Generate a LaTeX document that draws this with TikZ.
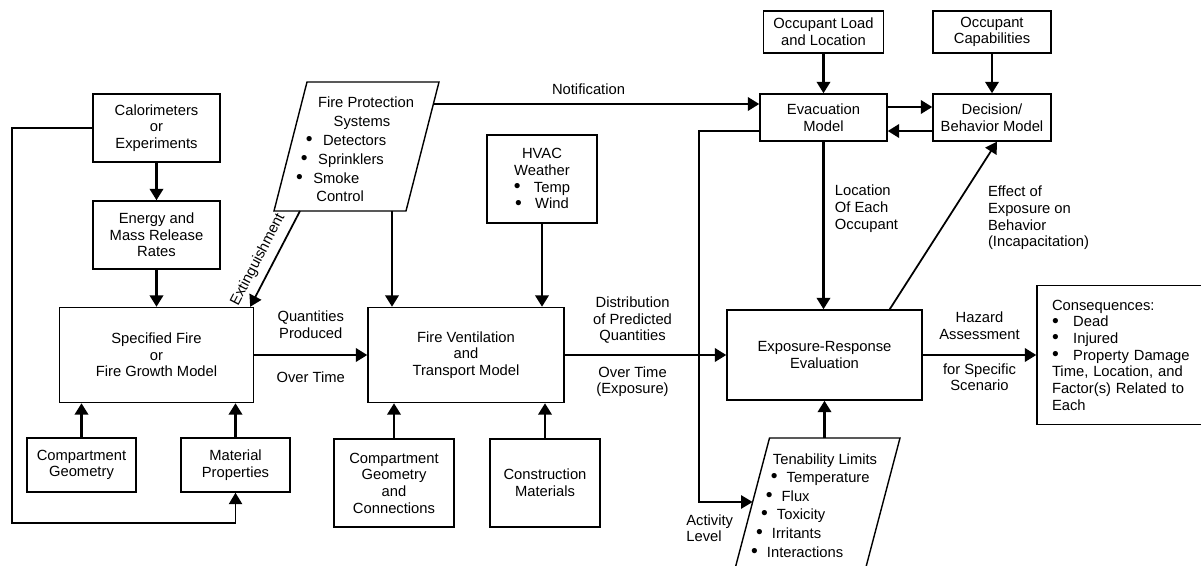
\documentclass[tikz,border=0pt]{standalone}
\usepackage{fontspec}
\setmainfont{Liberation Sans}
\usepackage{tikz}
\usetikzlibrary{arrows.meta}
\newcommand{\Punkt}[1]{\raisebox{-.3pt}{\fontsize{11}{9.5}\selectfont\textbullet}\hspace{#1}}
\tikzset{
  Kasten/.style 2 args={draw, line width=.8pt, align=center, inner sep=0pt,
    minimum width=#1, minimum height=#2}, % Kaesten
  Pfeil/.style={line width=1.6pt,->}, % dicke Pfeile
  DPfeil/.style={line width=1pt,->}, % duenne Pfeile
  Beschr/.style={inner sep=0pt, align=center}, % Pfeilbeschriftung
  Zeile/.style={inner sep=0pt, text height=1.6ex, text depth=.3ex} % Textzeilen
}
\begin{document}
\begin{tikzpicture}[x=0.02cm, y=-0.02cm,
font=\fontsize{8.4}{9.5}\selectfont,
>={Triangle[length=6.5pt,width=7.5pt]} % Pfeilspitzen
]
\path[use as bounding box, fill=white] (0,0) rectangle (1201,565);

%Kaesten
\node[Kasten={2.54cm}{1.36cm}] (cal) at (156.5,128) {Calorimeters\\or\\Experiments};
\node[Kasten={2.54cm}{1.36cm}] (emr) at (156.5,235) {Energy and\\Mass Release\\Rates};
\node[Kasten={3.88cm}{1.9cm}] (sfire) at (156.5,355) {Specified Fire\\or\\Fire Growth Model};
\node[Kasten={2.18cm}{1.08cm}] (cgeo) at (81.5,465) {Compartment\\Geometry};
\node[Kasten={2.18cm}{1.08cm}] (matp) at (235.5,465) {Material\\Properties};
\node[Kasten={3.92cm}{1.9cm}] (fvent) at (466,355) {Fire Ventilation\\and\\Transport Model};
\node[Kasten={2.4cm}{1.76cm}] (cgc) at (394,483) {Compartment\\Geometry\\and\\Connections};
\node[Kasten={2.2cm}{1.76cm}] (cmat) at (545,483) {Construction\\Materials};
\node[Kasten={2.2cm}{1.76cm}] (hvac) at (542,179) {HVAC\\Weather\\\Punkt{7.5pt}Temp\\\Punkt{7.5pt}Wind};
\node[Kasten={2.4cm}{0.84cm}] (oload) at (823.5,32) {Occupant Load\\and Location};
\node[Kasten={2.36cm}{0.84cm}] (ocap) at (992,32) {Occupant\\Capabilities};
\node[Kasten={2.54cm}{0.94cm}] (evac) at (823.5,117.5) {Evacuation\\Model};
\node[Kasten={2.36cm}{0.94cm}] (dec) at (992,117.5) {Decision/\\Behavior Model};
\node[Kasten={3.9cm}{1.8cm}] (expo) at (824.5,355) {Exposure-Response\\Evaluation};
\node[Kasten={3.4cm}{2.78cm}, align=left, text width=2.8cm, inner xsep=.3cm] (cons) at (1122,355)
  {Consequences:\\\Punkt{8.2pt}Dead\\\Punkt{8.2pt}Injured\\\Punkt{8.2pt}Property Damage\\
   Time, Location, and\\Factor(s) Related to\\Each};

%Parallelogramme
\coordinate (fps-nw) at (307,82);
\coordinate (fps-ne) at (439,82);
\coordinate (fps-se) at (406,211);
\coordinate (fps-sw) at (274,211);
\draw[line width=.8pt] (fps-nw) -- (fps-ne) -- (fps-se) -- (fps-sw) -- cycle;
\node[Zeile] (fps-1) at (366,101) {Fire Protection};
\node[Zeile] (fps-2) at (362,120) {Systems};
\foreach \y/\wort in {139/Detectors,158/Sprinklers,177/Smoke}
  \node[Zeile, anchor=west] (fps-\wort) at ({307-33*(\y-82)/129+13},\y) {\Punkt{6pt}\wort};
\node[Zeile, anchor=west] (fps-6) at (316,195) {Control};

\coordinate (ten-nw) at (769.5,438);
\coordinate (ten-ne) at (900,438);
\coordinate (ten-sw) at (734.7,570);
\coordinate (ten-se) at (865.2,570);
\draw[line width=.8pt] (ten-sw) -- (ten-nw) -- (ten-ne) -- (ten-se);
\node[Zeile] (ten-1) at (825,458) {Tenability Limits};
\foreach \y/\wort in {476/Temperature,495/Flux,513/Toxicity,532/Irritants,551/Interactions}
  \node[Zeile, anchor=west] (ten-\wort) at ({769.5-33.5*(\y-438)/127+11},\y) {\Punkt{5.2pt}\wort};

%Hilfspunkte
\coordinate (fps-o) at (433.4,104);
\coordinate (fps-u1) at (300,211);
\coordinate (fps-u2) at (392,211);
\coordinate (ten-w) at (752.6,502);
\coordinate (knick) at (699,502);
\coordinate (schleife) at (12,523);
\coordinate (z1) at (0,107);
\coordinate (z2) at (0,131);

%Pfeile
\draw[Pfeil] (cal) -- (emr);
\draw[Pfeil] (emr) -- (sfire);
\draw[Pfeil] (cgeo) -- (cgeo |- sfire.south);
\draw[Pfeil] (matp) -- (matp |- sfire.south);
\draw[Pfeil] (cgc) -- (cgc |- fvent.south);
\draw[Pfeil] (cmat) -- (cmat |- fvent.south);
\draw[Pfeil] (hvac) -- (hvac |- fvent.north);
\draw[Pfeil] (fps-u2) -- (fps-u2 |- fvent.north);
\draw[Pfeil] (oload) -- (evac);
\draw[Pfeil] (ocap) -- (dec);
\draw[Pfeil] (evac.east |- z1) -- (dec.west |- z1);
\draw[Pfeil] (dec.west |- z2) -- (evac.east |- z2);
\draw[Pfeil] (expo.south |- ten-nw) -- (expo);

\draw[Pfeil] (sfire) -- node[Beschr, above=.3cm] (q1) {Quantities\\Produced}
  node[Beschr, below=.3cm] (q2) {Over Time} (fvent);
\draw[Pfeil] (fvent) -- node[Beschr, pos=.42, above=.2cm] (d1) {Distribution\\of Predicted\\Quantities}
  node[Beschr, pos=.42, below=.2cm] (d2) {Over Time\\(Exposure)} (expo);
\draw[Pfeil] (expo) -- node[Beschr, above=.28cm] (h1) {Hazard\\Assessment}
  node[Beschr, below=.14cm] (h2) {for Specific\\Scenario} (cons);
\draw[Pfeil] (fps-o) -- node[Beschr, pos=.476, above=.16cm] (noti) {Notification} (evac.west |- fps-o);
\draw[Pfeil] (evac) -- node[Beschr, pos=.4, right=.2cm, align=left] (loc) {Location\\Of Each\\Occupant}
  (evac |- expo.north);

\draw[DPfeil] ([xshift=-.66cm]expo.north east) -- node[Beschr, pos=.545, right=.78cm, align=left] (eff)
  {Effect of\\Exposure on\\Behavior\\(Incapacitation)} ([xshift=.1cm]dec.south);
\draw[DPfeil] (fps-u1) -- node[Beschr, pos=.58, sloped, above=.14cm] (ext) {Extinguishment}
  ([xshift=-.08cm]sfire.north east);
\draw[DPfeil] (evac.west |- z2) -| (knick) -- (ten-w);
\draw[DPfeil] (cal) -| (schleife) -| (matp);
\node[Beschr, align=left, anchor=north west] (akt) at ([xshift=-.26cm, yshift=-.24cm]knick) {Activity\\Level};

\end{tikzpicture}
\end{document}
